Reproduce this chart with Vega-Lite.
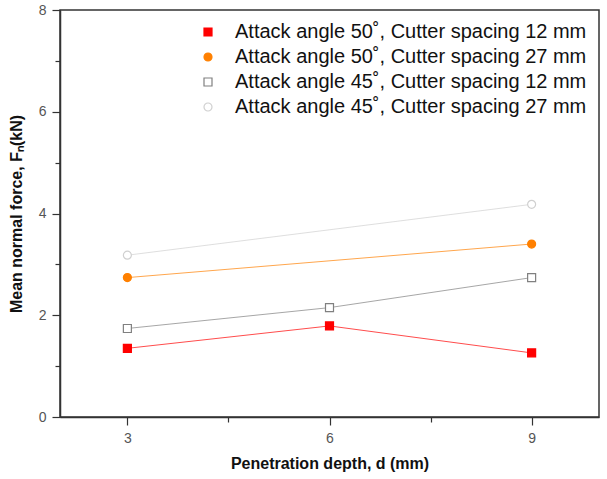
{
  "$schema": "https://vega.github.io/schema/vega-lite/v6.json",
  "width": 539,
  "height": 407,
  "autosize": {"type": "none"},
  "padding": {"left": 60, "top": 10, "right": 8, "bottom": 62},
  "background": "white",
  "config": {
    "font": "Liberation Sans",
    "view": {"stroke": "#333", "strokeWidth": 1.5},
    "axis": {"grid": false, "domainColor": "#333", "domainWidth": 1.5, "tickColor": "#333", "tickWidth": 1.2, "labelColor": "#555", "labelFontSize": 14, "titleFontSize": 16, "titleFontWeight": "bold", "titleColor": "#111", "labelFont": "Liberation Sans", "titleFont": "Liberation Sans"},
    "legend": {
      "title": null, "orient": "top-right", "offset": 12,
      "labelFontSize": 20, "labelColor": "#111", "labelFont": "Liberation Sans",
      "labelOffset": 17, "rowPadding": 5, "symbolSize": 64, "padding": 0, "labelLimit": 500,
      "symbolStrokeWidth": 1.2
    }
  },
  "data": {
    "values": [
      {"d": 3, "F": 1.35, "series": "Attack angle 50˚, Cutter spacing 12 mm"},
      {"d": 6, "F": 1.79, "series": "Attack angle 50˚, Cutter spacing 12 mm"},
      {"d": 9, "F": 1.26, "series": "Attack angle 50˚, Cutter spacing 12 mm"},
      {"d": 3, "F": 2.74, "series": "Attack angle 50˚, Cutter spacing 27 mm"},
      {"d": 9, "F": 3.40, "series": "Attack angle 50˚, Cutter spacing 27 mm"},
      {"d": 3, "F": 1.74, "series": "Attack angle 45˚, Cutter spacing 12 mm"},
      {"d": 6, "F": 2.15, "series": "Attack angle 45˚, Cutter spacing 12 mm"},
      {"d": 9, "F": 2.74, "series": "Attack angle 45˚, Cutter spacing 12 mm"},
      {"d": 3, "F": 3.18, "series": "Attack angle 45˚, Cutter spacing 27 mm"},
      {"d": 9, "F": 4.18, "series": "Attack angle 45˚, Cutter spacing 27 mm"}
    ]
  },
  "encoding": {
    "x": {
      "field": "d", "type": "quantitative",
      "scale": {"domain": [2, 10], "nice": false, "zero": false},
      "axis": {
        "title": "Penetration depth, d (mm)",
        "values": [3, 4.5, 6, 7.5, 9],
        "labelExpr": "datum.value % 3 == 0 ? datum.label : ''",
        "tickSize": {"condition": {"test": "datum.value % 3 == 0", "value": 8}, "value": 5},
        "labelPadding": 6,
        "titlePadding": 10
      }
    },
    "y": {
      "field": "F", "type": "quantitative",
      "scale": {"domain": [0, 8], "nice": false},
      "axis": {
        "title": "Mean normal force, Fₙ(kN)",
        "values": [0, 1, 2, 3, 4, 5, 6, 7, 8],
        "labelExpr": "datum.value % 2 == 0 ? datum.label : ''",
        "tickSize": {"condition": {"test": "datum.value % 2 == 0", "value": 8}, "value": 5},
        "labelPadding": 6,
        "titlePadding": 14
      }
    },
    "stroke": {
      "field": "series", "type": "nominal",
      "scale": {
        "domain": ["Attack angle 50˚, Cutter spacing 12 mm", "Attack angle 50˚, Cutter spacing 27 mm", "Attack angle 45˚, Cutter spacing 12 mm", "Attack angle 45˚, Cutter spacing 27 mm"],
        "range": ["#ff0000", "#ff8000", "#808080", "#d0d0d0"]
      }
    }
  },
  "layer": [
    {
      "mark": {"type": "line", "strokeWidth": 1, "strokeOpacity": 0.7}
    },
    {
      "mark": {"type": "point", "size": 64, "strokeWidth": 1.2, "opacity": 1},
      "encoding": {
        "shape": {
          "field": "series", "type": "nominal",
          "scale": {
            "domain": ["Attack angle 50˚, Cutter spacing 12 mm", "Attack angle 50˚, Cutter spacing 27 mm", "Attack angle 45˚, Cutter spacing 12 mm", "Attack angle 45˚, Cutter spacing 27 mm"],
            "range": ["square", "circle", "square", "circle"]
          }
        },
        "fill": {
          "field": "series", "type": "nominal",
          "scale": {
            "domain": ["Attack angle 50˚, Cutter spacing 12 mm", "Attack angle 50˚, Cutter spacing 27 mm", "Attack angle 45˚, Cutter spacing 12 mm", "Attack angle 45˚, Cutter spacing 27 mm"],
            "range": ["#ff0000", "#ff8000", "#ffffff", "#ffffff"]
          }
        }
      }
    }
  ]
}
